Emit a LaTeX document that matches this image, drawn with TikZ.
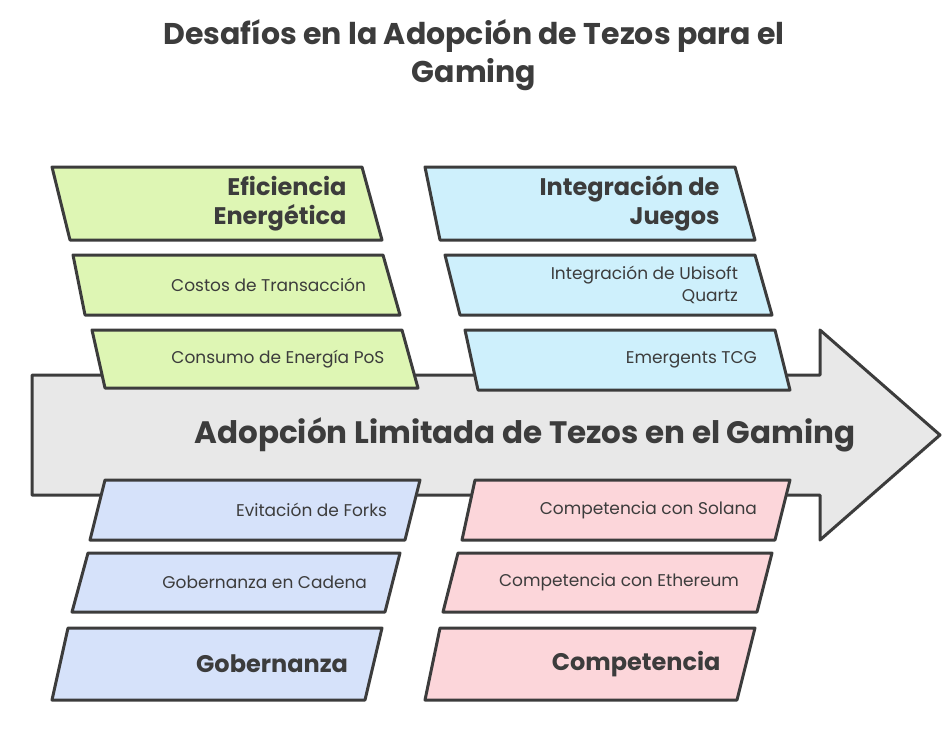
\documentclass[tikz,border=0pt]{standalone}
\usepackage{fontspec}
\setmainfont{Poppins}
\usetikzlibrary{positioning}
\definecolor{grn}{RGB}{222,246,180}
\definecolor{blu}{RGB}{206,240,252}
\definecolor{lav}{RGB}{214,226,250}
\definecolor{pnk}{RGB}{252,214,218}
\definecolor{ink}{RGB}{60,60,60}
\definecolor{body}{RGB}{232,232,232}
\tikzset{
  edge/.style={draw=ink, line width=3pt, line join=round},
  head/.style={font=\bfseries\fontsize{24}{29}\selectfont, text=ink, align=right, anchor=east},
  item/.style={font=\fontsize{17}{22}\selectfont, text=ink, align=right, anchor=east}
}
% #1 name, #2 top y, #3 bottom y, #4 top left x, #5 top right x, #6 bottom left x, #7 bottom right x, #8 fill
\newcommand{\slab}[8]{%
  \path[edge, fill=#8] (#4,#2) -- (#5,#2) -- (#7,#3) -- (#6,#3) -- cycle;
  \coordinate (#1) at ({(#5+#7)/2-22},{(#2+#3)/2});
}
\begin{document}
\begin{tikzpicture}[x=1pt,y=-1pt]
\useasboundingbox (0,0) rectangle (948,732);
% main arrow
\path[edge, fill=body] (32,375) -- (820,375) -- (820,330) -- (940,435) -- (820,540)
  -- (820,495) -- (32,495) -- cycle;
\node[font=\bfseries\fontsize{31}{36}\selectfont, text=ink] (effect) at (525,435)
  {Adopción Limitada de Tezos en el Gaming};
\node[font=\bfseries\fontsize{30}{38}\selectfont, text=ink, align=center] (title) at (474,55)
  {Desafíos en la Adopción de Tezos para el\\Gaming};
% upper left
\slab{ef}{167}{240}{52}{362}{70}{382}{grn}
\slab{co}{255}{315}{73}{383}{85}{400}{grn}
\slab{cs}{330}{388}{92}{402}{105}{418}{grn}
\node[head] (efl) at (ef) {Eficiencia\\Energética};
\node[item] (col) at (co) {Costos de Transacción};
\node[item] (csl) at (cs) {Consumo de Energía PoS};
% upper right
\slab{ij}{167}{240}{425}{735}{440}{755}{blu}
\slab{ub}{255}{315}{445}{755}{460}{772}{blu}
\slab{em}{330}{390}{465}{775}{478}{790}{blu}
\node[head] (ijl) at (ij) {Integración de\\Juegos};
\node[item] (ubl) at (ub) {Integración de Ubisoft\\Quartz};
\node[item] (eml) at (em) {Emergents TCG};
% lower left
\slab{ev}{480}{540}{105}{420}{90}{405}{lav}
\slab{gc}{553}{612}{88}{400}{72}{385}{lav}
\slab{go}{628}{700}{68}{382}{52}{365}{lav}
\node[item] (evl) at (ev) {Evitación de Forks};
\node[item] (gcl) at (gc) {Gobernanza en Cadena};
\node[head] (gol) at (go) {Gobernanza};
% lower right
\slab{so}{480}{540}{475}{790}{462}{775}{pnk}
\slab{et}{553}{612}{458}{772}{443}{757}{pnk}
\slab{cp}{628}{700}{440}{755}{425}{737}{pnk}
\node[item] (sol) at (so) {Competencia con Solana};
\node[item] (etl) at (et) {Competencia con Ethereum};
\node[head] (cpl) at (cp) {Competencia};
\end{tikzpicture}
\end{document}
